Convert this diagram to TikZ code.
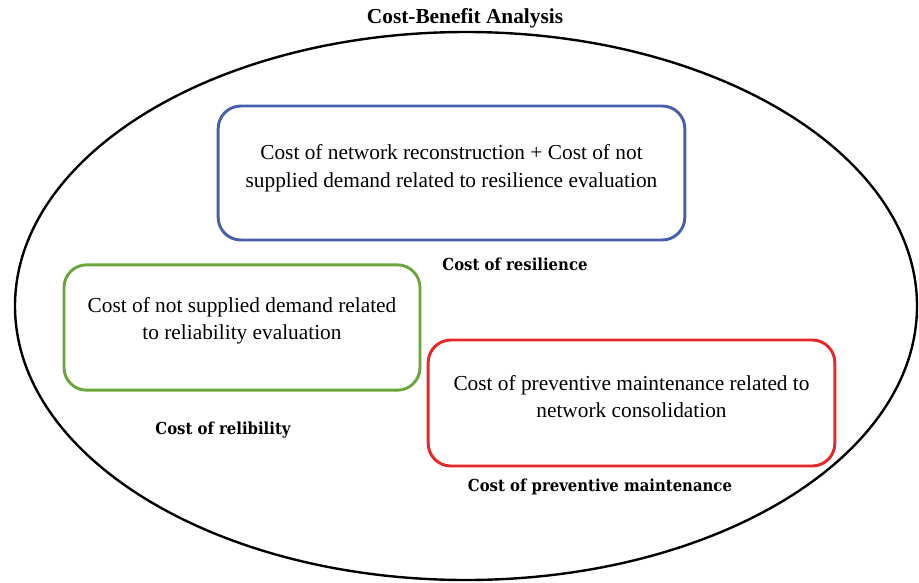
\documentclass[tikz,border=0pt]{standalone}
\usepackage{fontspec}
\setmainfont{Liberation Serif}
\newfontfamily\labelfont{DejaVu Serif Condensed}
\usetikzlibrary{positioning}
\definecolor{cRes}{RGB}{72,95,170}
\definecolor{cRel}{RGB}{108,165,60}
\definecolor{cMnt}{RGB}{232,40,40}

\begin{document}
\begin{tikzpicture}[
    x=0.75pt, y=-0.75pt,
    costbox/.style={draw,rounded corners=17pt,line width=2.2pt},
    boxtext/.style={align=center,font=\fontsize{16}{20.5}\selectfont},
    costlabel/.style={font=\labelfont\bfseries\fontsize{12.4}{14}\selectfont},
  ]
  \useasboundingbox (0,0) rectangle (919,582);
  % Outer frame
  \node[font=\bfseries\fontsize{16}{19}\selectfont] (title) at (465,18) {Cost-Benefit Analysis};
  \draw[line width=1.8pt] (466,306) ellipse [x radius=451, y radius=274];
  % Cost boxes
  \node[costbox,draw=cRes,minimum width=350pt,minimum height=100.5pt] (res) at (451.5,173) {};
  \node[costbox,draw=cRel,minimum width=267pt,minimum height=94pt] (rel) at (242,327.5) {};
  \node[costbox,draw=cMnt,minimum width=305pt,minimum height=94.5pt] (mnt) at (631.5,403) {};
  \node[boxtext] (resT) at ([yshift=3.5pt]res.center) {Cost of network reconstruction + Cost of not\\supplied demand related to resilience evaluation};
  \node[boxtext] (relT) at ([yshift=5pt]rel.center) {Cost of not supplied demand related\\to reliability evaluation};
  \node[boxtext] (mntT) at ([yshift=5pt]mnt.center) {Cost of preventive maintenance related to\\network consolidation};
  % Labels
  \node[costlabel] (resL) at (515,264) {Cost of resilience};
  \node[costlabel] (relL) at (223,430) {Cost of relibility};
  \node[costlabel] (mntL) at (600,487) {Cost of preventive maintenance};
\end{tikzpicture}
\end{document}
